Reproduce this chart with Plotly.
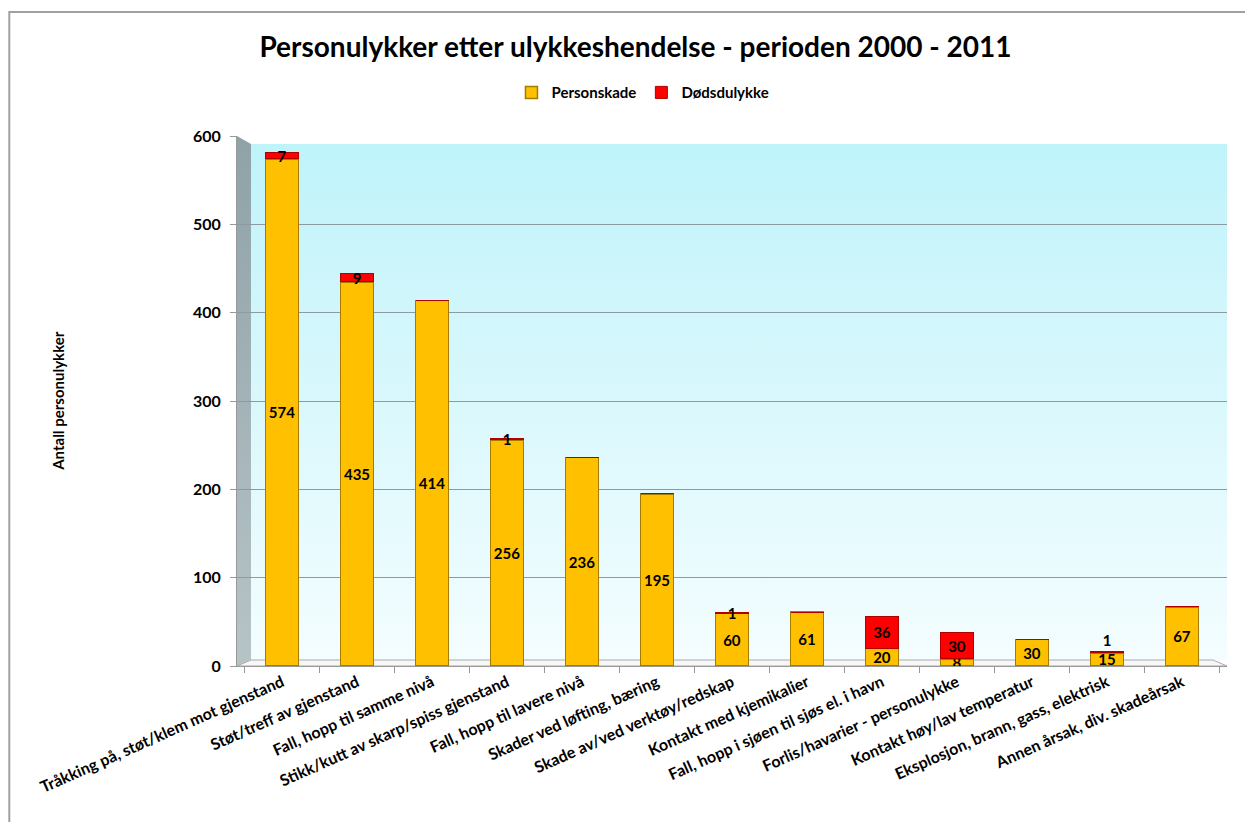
import base64
import plotly.graph_objects as go

categories = [
    "Tråkking på, støt/klem mot gjenstand",
    "Støt/treff av gjenstand",
    "Fall, hopp til samme nivå",
    "Stikk/kutt av skarp/spiss gjenstand",
    "Fall, hopp til lavere nivå",
    "Skader ved løfting, bæring",
    "Skade av/ved verktøy/redskap",
    "Kontakt med kjemikalier",
    "Fall, hopp i sjøen til sjøs el. i havn",
    "Forlis/havarier - personulykke",
    "Kontakt høy/lav temperatur",
    "Eksplosjon, brann, gass, elektrisk",
    "Annen årsak, div. skadeårsak",
]
personskade = [574, 435, 414, 256, 236, 195, 60, 61, 20, 8, 30, 15, 67]
dodsulykke = [7, 9, 0, 1, 0, 0, 1, 0, 36, 30, 0, 1, 0]
y_ticks = [0, 100, 200, 300, 400, 500, 600]

FONT = "Lato"

# background: gradient back wall + grey side wall (decoration only)
svg = """<svg xmlns='http://www.w3.org/2000/svg' width='990' height='530' viewBox='0 0 990 530' preserveAspectRatio='none'>
<defs><linearGradient id='g' x1='0' y1='0' x2='0' y2='1'>
<stop offset='0' stop-color='#bff3fa'/><stop offset='1' stop-color='#f4fdff'/></linearGradient>
<linearGradient id='w' x1='0' y1='0' x2='0' y2='1'>
<stop offset='0' stop-color='#8ea2a7'/><stop offset='1' stop-color='#b7c4c7'/></linearGradient></defs>
<rect x='14' y='8' width='976' height='516' fill='url(#g)'/>
<polygon points='0,0 14,8 14,524 0,530' fill='url(#w)'/>
<polygon points='0,530 14,524 976,524 990,530' fill='#f7f7f7' stroke='#aaaaaa' stroke-width='1'/>
</svg>"""
img_src = "data:image/svg+xml;base64," + base64.b64encode(svg.encode()).decode()

# small red labels on very short stacks sit just above the stack so they stay readable
dod_pos = ["outside" if (p + d) < 25 else "inside" for p, d in zip(personskade, dodsulykke)]

fig = go.Figure()
fig.add_trace(go.Bar(
    x=categories, y=personskade, name="Personskade",
    marker=dict(color="#FFC000", line=dict(color="#A67C00", width=1.5)),
    text=[str(v) if v else "" for v in personskade],
    textposition="inside", insidetextanchor="middle", textangle=0,
    textfont=dict(family=FONT, size=15, color="black", weight="bold"),
))
fig.add_trace(go.Bar(
    x=categories, y=dodsulykke, name="Dødsdulykke",
    marker=dict(color="#FF0000", line=dict(color="#B00000", width=1)),
    text=[str(v) if v else "" for v in dodsulykke],
    textposition=dod_pos, insidetextanchor="middle", textangle=0,
    textfont=dict(family=FONT, size=15, color="black", weight="bold"),
    cliponaxis=False,
))

fig.update_layout(
    width=1245, height=814,
    barmode="stack", bargap=0.56,
    paper_bgcolor="white", plot_bgcolor="rgba(0,0,0,0)",
    margin=dict(l=229, r=26, t=128, b=156),
    font=dict(family=FONT, color="black"),
    uniformtext=dict(minsize=15, mode="show"),
    title=dict(text="Personulykker etter ulykkeshendelse - perioden 2000 - 2011",
               x=0.504, xanchor="center", y=0.952, yanchor="middle",
               font=dict(family=FONT, size=28, color="black", weight="bold")),
    legend=dict(orientation="h", xref="container", x=0.51, xanchor="center",
                yref="container", y=0.896, yanchor="middle",
                font=dict(family=FONT, size=15, weight="bold"),
                traceorder="normal"),
    xaxis=dict(tickangle=-24, tickfont=dict(family=FONT, size=16, weight="bold"),
               showline=True, linecolor="#999999", ticks="outside", tickson="boundaries",
               ticklen=6, tickcolor="#999999", range=[-0.6, 12.6]),
    yaxis=dict(range=[0, 600], tickvals=y_ticks, tickfont=dict(family=FONT, size=16, weight="bold"),
               showgrid=True, gridcolor="#8c9ba0", gridwidth=1,
               showline=True, linecolor="#999999", ticks="outside", ticklen=6, tickcolor="#999999",
               ticklabelstandoff=6, zeroline=False),
    images=[dict(source=img_src, xref="paper", yref="paper", x=0, y=1,
                 sizex=1, sizey=1, sizing="stretch", xanchor="left", yanchor="top",
                 layer="below")],
    annotations=[dict(text="Antall personulykker", xref="paper", yref="paper",
                      x=-0.181, y=0.5, xanchor="center", yanchor="middle",
                      textangle=-90, showarrow=False,
                      font=dict(family=FONT, size=15, weight="bold"))],
    shapes=[dict(type="rect", xref="paper", yref="paper",
                 x0=-0.230, x1=1.2, y0=-0.5, y1=1.234,
                 line=dict(color="#a0a0a0", width=2))],
)
fig.write_html("out.html")
